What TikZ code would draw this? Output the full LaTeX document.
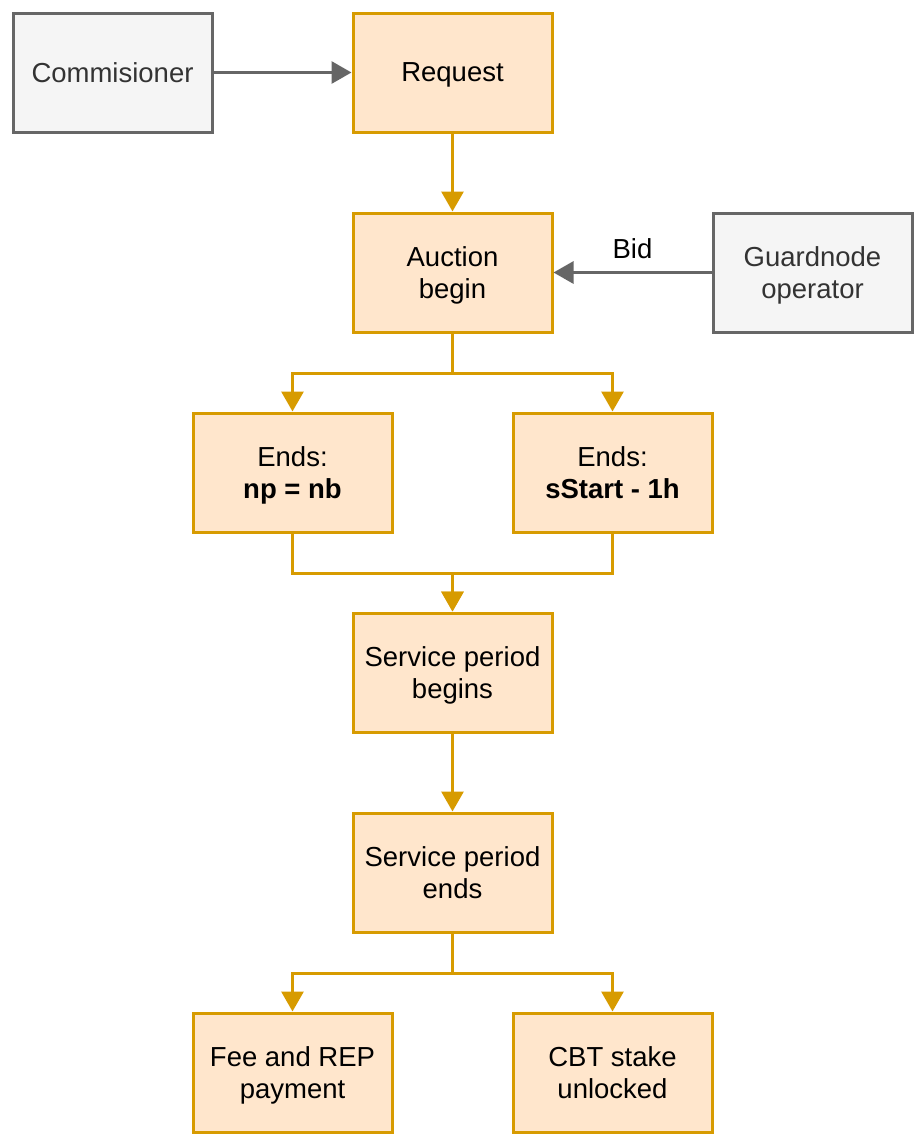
\documentclass[tikz,border=0pt]{standalone}
\usepackage{fontspec}
\setmainfont{Liberation Sans}
\usepackage{tikz}
\usetikzlibrary{arrows.meta,positioning,calc}
\usepackage{xcolor}
\definecolor{stageline}{RGB}{215,155,0}
\definecolor{stagefill}{RGB}{255,230,204}
\definecolor{actorline}{RGB}{102,102,102}
\definecolor{actorfill}{RGB}{245,245,245}

\tikzset{
    stage/.style={draw=stageline,fill=stagefill,line width=3pt,minimum width=199pt,minimum height=119pt,align=center,text depth=-5pt,font=\fontsize{27.5}{32}\selectfont},
    actor/.style={draw=actorline,fill=actorfill,line width=3pt,minimum width=199pt,minimum height=119pt,align=center,text depth=-5pt,font=\fontsize{27.5}{32}\selectfont,text=black!80},
    flow/.style={draw=stageline,line width=3pt,-{Triangle[width=22pt,length=20pt]}},
    feed/.style={draw=actorline,line width=3pt,-{Triangle[width=22pt,length=20pt]}}
}

\begin{document}
\begin{tikzpicture}[x=1pt,y=-1pt]
    \useasboundingbox (0,0) rectangle (924,1144);

    \node[actor] (comm) at (112.5,72.5) {Commisioner};
    \node[stage] (req) at (452.5,72.5) {Request};
    \node[stage] (auction) at (452.5,272.5) {Auction\\begin};
    \node[actor] (guard) at (812.5,272.5) {Guardnode\\operator};

    \node[stage] (endsnp) at (292.5,472.5) {Ends:\\\textbf{np = nb}};
    \node[stage] (endsstart) at (612.5,472.5) {Ends:\\\textbf{sStart - 1h}};

    \node[stage] (spbegin) at (452.5,672.5) {Service period\\begins};
    \node[stage] (spend) at (452.5,872.5) {Service period\\ends};

    \node[stage] (fee) at (292.5,1072.5) {Fee and REP\\payment};
    \node[stage] (cbt) at (612.5,1072.5) {CBT stake\\unlocked};

    \draw[feed] (comm) -- (req);
    \draw[flow] (req) -- (auction);
    \draw[feed] (guard) -- node[above=9pt,font=\fontsize{27.5}{32}\selectfont] (bid) {Bid} (auction);

    \draw[flow] (auction.south) -- ++(0,40) -| (endsnp.north);
    \draw[flow] (auction.south) -- ++(0,40) -| (endsstart.north);

    \draw[flow] (endsnp.south) -- ++(0,40) -| (spbegin.north);
    \draw[flow] (endsstart.south) -- ++(0,40) -| (spbegin.north);

    \draw[flow] (spbegin) -- (spend);

    \draw[flow] (spend.south) -- ++(0,40) -| (fee.north);
    \draw[flow] (spend.south) -- ++(0,40) -| (cbt.north);
\end{tikzpicture}
\end{document}
